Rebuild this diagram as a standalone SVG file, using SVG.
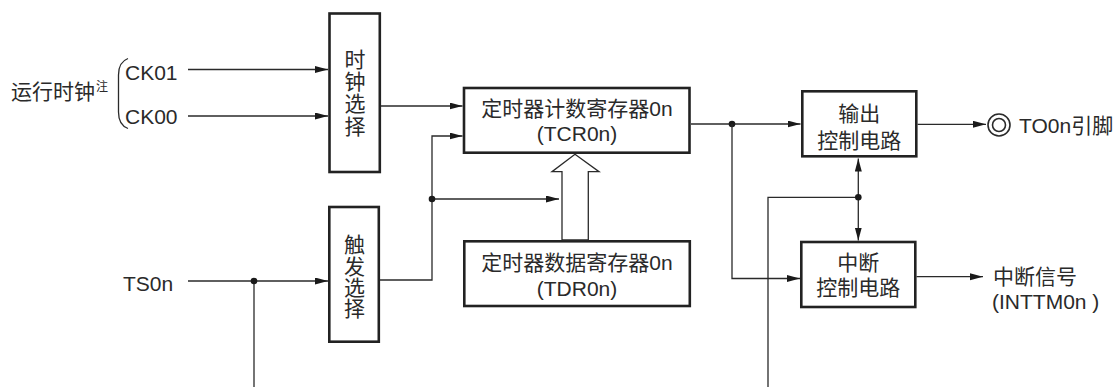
<svg xmlns="http://www.w3.org/2000/svg" width="1116" height="387" viewBox="0 0 1116 387">
<style>
text{font-family:"Liberation Sans","Noto Sans CJK SC",sans-serif;font-size:21px;fill:#2a2a2a}
.box{fill:#fff;stroke:#222;stroke-width:2.6}
.ln{fill:none;stroke:#2a2a2a;stroke-width:1.3}
.dot{fill:#1a1a1a}
.m{text-anchor:middle}
</style>
<defs>
<marker id="ah" markerUnits="userSpaceOnUse" markerWidth="14" markerHeight="8" refX="13" refY="3.5" orient="auto-start-reverse">
<path d="M0,0 L13,3.5 L0,7 z" fill="#1a1a1a"/>
</marker>
</defs>

<g id="labels">
<text x="11" y="99">运行时钟</text>
<text x="96" y="91" style="font-size:12px">注</text>
<path class="ln" d="M128,58.5 Q118.5,62 118.5,75 L118.5,112 Q118.5,125 128,128.5"/>
<text x="125" y="80">CK01</text>
<text x="125" y="123.5">CK00</text>
<text x="123" y="290.5">TS0n</text>
</g>

<g id="clock-select">
<rect class="box" x="329.5" y="13.5" width="50.3" height="158.5"/>
<text class="m" x="355" y="66.5">时</text>
<text class="m" x="355" y="89">钟</text>
<text class="m" x="355" y="111">选</text>
<text class="m" x="355" y="133.5">择</text>
</g>

<g id="trigger-select">
<rect class="box" x="329.3" y="207" width="49.5" height="134.7"/>
<text class="m" x="354.5" y="252">触</text>
<text class="m" x="354.5" y="273.5">发</text>
<text class="m" x="354.5" y="295">选</text>
<text class="m" x="354.5" y="316">择</text>
</g>

<g id="tcr">
<rect class="box" x="464" y="88" width="225.5" height="64.7"/>
<text class="m" x="577" y="115.5">定时器计数寄存器0n</text>
<text class="m" x="577" y="140.5">(TCR0n)</text>
</g>

<g id="tdr">
<rect class="box" x="464.3" y="241.3" width="225.5" height="64.7"/>
<text class="m" x="577" y="269.5">定时器数据寄存器0n</text>
<text class="m" x="577" y="296">(TDR0n)</text>
</g>

<g id="output-ctrl">
<rect class="box" x="802.3" y="91.3" width="114" height="65"/>
<text class="m" x="859.3" y="121.3">输出</text>
<text class="m" x="859.3" y="148">控制电路</text>
</g>

<g id="interrupt-ctrl">
<rect class="box" x="801.3" y="242" width="114" height="65"/>
<text class="m" x="858.3" y="269.7">中断</text>
<text class="m" x="858.3" y="294.6">控制电路</text>
</g>

<g id="pin">
<circle cx="999" cy="125" r="11" fill="none" stroke="#2a2a2a" stroke-width="1.6"/>
<circle cx="999" cy="125" r="6.5" fill="none" stroke="#2a2a2a" stroke-width="1.6"/>
<text x="1019" y="133">TO0n引脚</text>
</g>

<g id="interrupt-signal">
<text x="993" y="283.5">中断信号</text>
<text x="992" y="308.5">(INTTM0n )</text>
</g>

<g id="connectors">
<path class="ln" marker-end="url(#ah)" d="M188,69.5 H328"/>
<path class="ln" marker-end="url(#ah)" d="M188,116 H328"/>
<path class="ln" marker-end="url(#ah)" d="M381,106 H462.5"/>
<path class="ln" marker-end="url(#ah)" d="M188,281 H328"/>
<path class="ln" d="M254,281 V387"/>
<circle class="dot" cx="254" cy="281" r="3.3"/>
<path class="ln" marker-end="url(#ah)" d="M380,280 H432 V136 H462.5"/>
<path class="ln" marker-end="url(#ah)" d="M432,199 H559"/>
<circle class="dot" cx="432" cy="199" r="3.3"/>
<polygon points="562,240 562,171.7 552,171.7 575,154.3 599,171.7 588.3,171.7 588.3,240" fill="#fff" stroke="#2a2a2a" stroke-width="1.3" stroke-linejoin="miter"/>
<path class="ln" marker-end="url(#ah)" d="M691,124 H800.5"/>
<circle class="dot" cx="732" cy="124" r="3.3"/>
<path class="ln" marker-end="url(#ah)" d="M732,124 V278.5 H800"/>
<path class="ln" marker-end="url(#ah)" d="M917.5,124.3 H986"/>
<path class="ln" marker-start="url(#ah)" marker-end="url(#ah)" d="M858.3,158.5 V240.5"/>
<path class="ln" d="M768,387 V197.3 H858.3"/>
<circle class="dot" cx="858.3" cy="197.3" r="3.3"/>
<path class="ln" marker-end="url(#ah)" d="M916.5,276.7 H983"/>
</g>
</svg>
